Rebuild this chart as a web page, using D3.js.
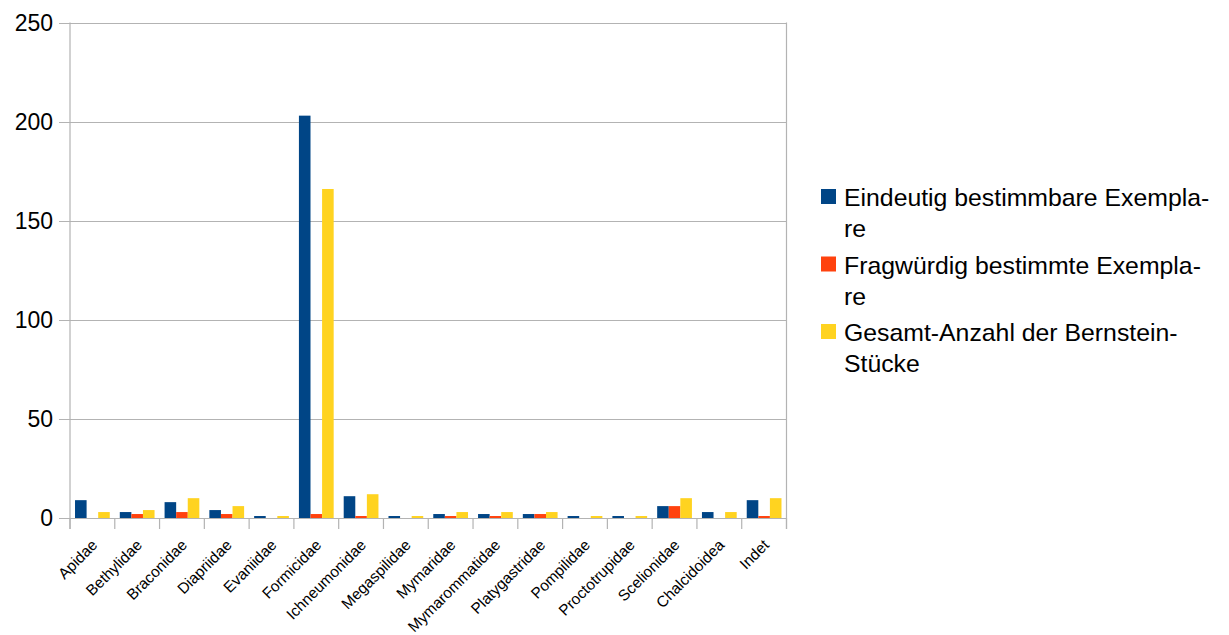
<!DOCTYPE html>
<html><head><meta charset="utf-8">
<script src="https://cdn.jsdelivr.net/npm/d3@7"></script>
<style>
html,body{margin:0;padding:0;background:#fff;}
svg{display:block;font-family:"Liberation Sans",Arial,sans-serif;}
</style></head>
<body><svg id="c" width="1229" height="635"></svg>
<script>
const categories = ["Apidae","Bethylidae","Braconidae","Diapriidae","Evaniidae","Formicidae","Ichneumonidae","Megaspilidae","Mymaridae","Mymarommatidae","Platygastridae","Pompilidae","Proctotrupidae","Scelionidae","Chalcidoidea","Indet"];
const seriesNames = ["Eindeutig bestimmbare Exemplare","Fragwürdig bestimmte Exemplare","Gesamt-Anzahl der Bernstein-Stücke"];
const legendLines = [["Eindeutig bestimmbare Exempla-","re"],["Fragwürdig bestimmte Exempla-","re"],["Gesamt-Anzahl der Bernstein-","Stücke"]];
const eindeutig = [9,3,8,4,1,203,11,1,2,2,2,1,1,6,3,9];
const fragwuerdig = [0,2,3,2,0,2,1,0,1,1,2,0,0,6,0,1];
const gesamt = [3,4,10,6,1,166,12,1,3,3,3,1,1,10,3,10];
const yTicks = [0,50,100,150,200,250];
const colors = ["#004586","#ff420e","#ffd320"];

const seriesValues = [eindeutig, fragwuerdig, gesamt];
const svg = d3.select("#c");
const L = 70, R = 786.5, T = 22.5, B = 518;
const grid = "#b3b3b3";

const x0 = d3.scaleBand().domain(categories).range([L, R]).padding(0);
const bw = x0.bandwidth();
const x1 = d3.scaleBand().domain(d3.range(3)).range([bw*0.112, bw*0.888]).padding(0);
const y = d3.scaleLinear().domain([0,250]).range([B, T]);

svg.append("g").selectAll("line").data(yTicks).join("line")
  .attr("x1", L-11).attr("x2", R)
  .attr("y1", d => Math.round(y(d))+0.5).attr("y2", d => Math.round(y(d))+0.5)
  .attr("stroke", grid).attr("stroke-width", 1.2);

svg.append("line").attr("x1", R).attr("x2", R).attr("y1", T).attr("y2", B+11)
  .attr("stroke", grid).attr("stroke-width", 1.2);

svg.append("line").attr("x1", L).attr("x2", L).attr("y1", T).attr("y2", B+11)
  .attr("stroke", grid).attr("stroke-width", 1.2);

const bounds = categories.map(c => x0(c)).concat([R]);
svg.append("g").selectAll("line").data(bounds).join("line")
  .attr("x1", d => d).attr("x2", d => d).attr("y1", B).attr("y2", B+11)
  .attr("stroke", grid).attr("stroke-width", 1.2);

const g = svg.append("g");
categories.forEach((c, i) => {
  seriesValues.forEach((vals, s) => {
    if (vals[i] <= 0) return;
    g.append("rect")
      .attr("x", x0(c) + x1(s))
      .attr("width", x1.bandwidth())
      .attr("y", y(vals[i]))
      .attr("height", B - y(vals[i]))
      .attr("fill", colors[s]);
  });
});

svg.append("g").selectAll("text").data(yTicks).join("text")
  .attr("x", 53).attr("y", d => y(d)).attr("dy", "0.36em")
  .attr("text-anchor", "end").attr("font-size", 23).attr("fill", "#000")
  .text(d => d);

svg.append("g").selectAll("text").data(categories).join("text")
  .attr("transform", c => `translate(${x0(c)+bw/2+6},${546}) rotate(-45)`)
  .attr("text-anchor", "end").attr("font-size", 15.4).attr("fill", "#000")
  .text(c => c);

const lg = svg.append("g");
seriesNames.forEach((name, i) => {
  const top = 189 + i*67.5;
  lg.append("rect").attr("x", 821).attr("y", top).attr("width", 15).attr("height", 15).attr("fill", colors[i]);
  const t = lg.append("text").attr("x", 844).attr("y", top+17).attr("font-size", 24.8).attr("fill", "#000");
  legendLines[i].forEach((ln, k) => {
    t.append("tspan").attr("x", 844).attr("dy", k === 0 ? 0 : 31).text(ln);
  });
});
</script></body></html>
